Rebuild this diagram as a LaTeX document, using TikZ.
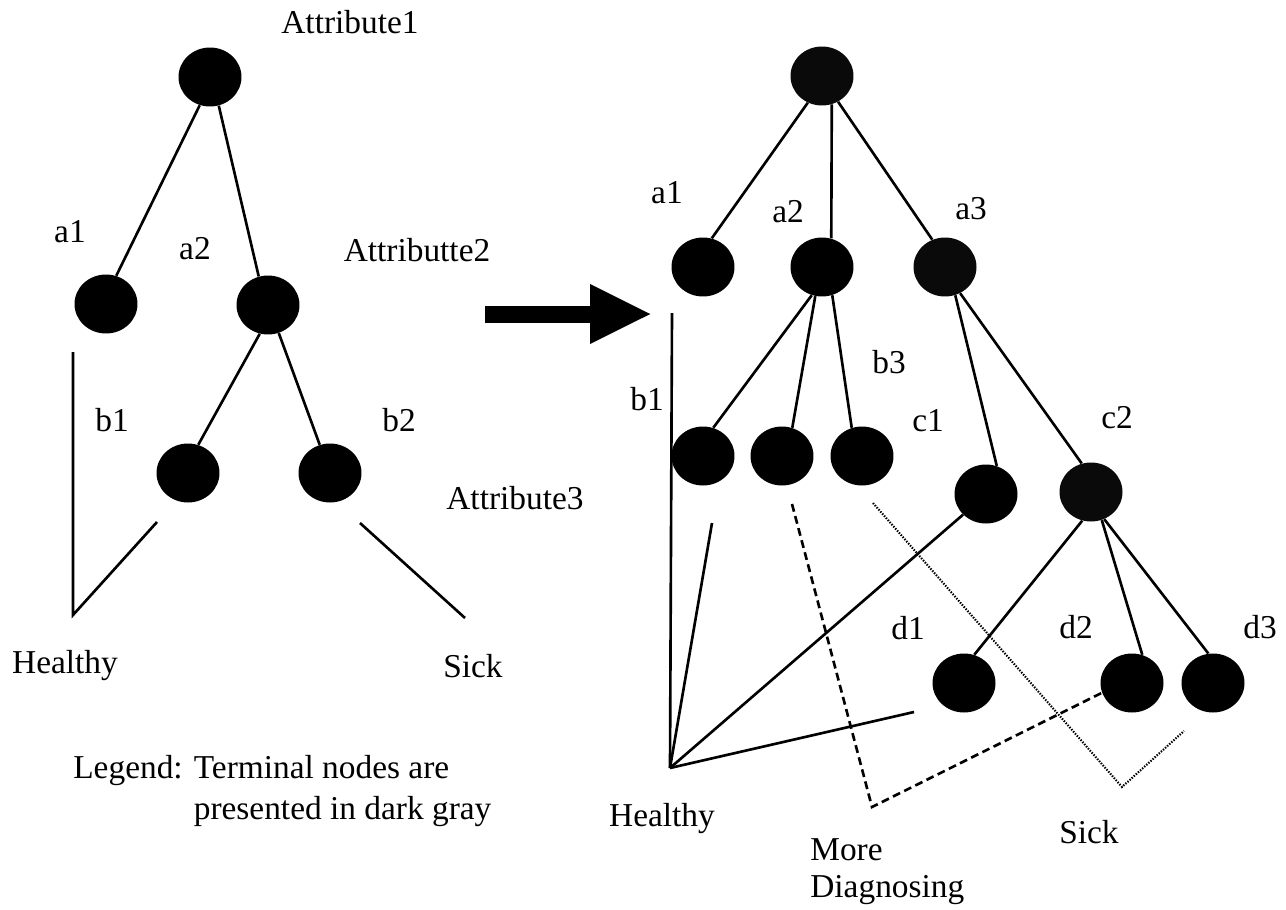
\documentclass[tikz,border=0pt]{standalone}
\usepackage{fontspec}
\setmainfont{Liberation Serif}
\usetikzlibrary{shapes.geometric,arrows.meta}

\tikzset{
  blob/.style={ellipse, fill=black, minimum width=1.26cm, minimum height=1.18cm, inner sep=0pt},
  greyblob/.style={blob, fill=black!96},
  lbl/.style={inner sep=0pt, font=\fontsize{19}{23}\selectfont},
  edge/.style={line width=1.5pt},
  moredash/.style={line width=1.5pt, dash pattern=on 4.5pt off 2.6pt},
  sickdot/.style={line width=1.2pt, dash pattern=on 0.8pt off 0.8pt},
}

\begin{document}
\begin{tikzpicture}[x=0.02cm, y=-0.02cm]
\useasboundingbox (0,0) rectangle (1286,910);

% ---------- simple tree ----------
\node[blob] (L0)  at (210,77)  {};
\node[blob] (La1) at (106,304) {};
\node[blob] (La2) at (268,305) {};
\node[blob] (Lb1) at (188,473) {};
\node[blob] (Lb2) at (330,473) {};

\draw[edge] (L0.-110) -- (La1.70);
\draw[edge] (L0.-73)  -- (La2.108);
\draw[edge] (La2.-106) -- (Lb1.70);
\draw[edge] (La2.-69)  -- (Lb2.110);

\coordinate (Ltop)  at (73,352);
\coordinate (LH)    at (73,615);
\coordinate (Lb1e)  at (157,522);
\coordinate (Lb2s)  at (360,523);
\coordinate (LS)    at (465,618);
\draw[edge] (Ltop) -- (LH) -- (Lb1e);
\draw[edge] (Lb2s) -- (LS);

\node[lbl] (tA1) at (350,22)  {Attribute1};
\node[lbl] (ta1) at (70,232)  {a1};
\node[lbl] (ta2) at (195,249) {a2};
\node[lbl] (tA2) at (417,250) {Attributte2};
\node[lbl] (tb1) at (112,420) {b1};
\node[lbl] (tb2) at (399,420) {b2};
\node[lbl] (tA3) at (515,498) {Attribute3};
\node[lbl] (tLH) at (65,666)  {Healthy};
\node[lbl] (tLS) at (473,666) {Sick};

\node[lbl, anchor=north west] (legend) at (73,750)
  {\begin{tabular}{@{}l@{ }l@{}}Legend: & Terminal nodes are\\ & presented in dark gray\end{tabular}};

% ---------- transformation arrow ----------
\coordinate (arrS) at (485,314);
\coordinate (arrE) at (652,314);
\draw[line width=0.34cm, -{Triangle[length=1.24cm, width=1.1cm]}] (arrS) -- (arrE);

% ---------- extended tree ----------
\node[greyblob] (R0) at (822,76)  {};
\node[blob]     (a1) at (703,267) {};
\node[blob]     (a2) at (822,267) {};
\node[greyblob] (a3) at (945,267) {};
\node[blob]     (b1) at (703,456) {};
\node[blob]     (b2) at (782,456) {};
\node[blob]     (b3) at (862,456) {};
\node[blob]     (c1) at (986,494) {};
\node[greyblob] (c2) at (1091,492) {};
\node[blob]     (d1) at (964,683) {};
\node[blob]     (d2) at (1132,683) {};
\node[blob]     (d3) at (1213,683) {};

\draw[edge] (R0.-118) -- (a1.73);
\draw[edge] (R0.-71)  -- (a2.72);
\draw[edge] (R0.-58)  -- (a3.115);
\draw[edge] (a2.-110) -- (b1.70);
\draw[edge] (a2.-103) -- (b2.70);
\draw[edge] (a2.-70)  -- (b3.110);
\draw[edge] (a3.-70)  -- (c1.69);
\draw[edge] (a3.-60)  -- (c2.108);
\draw[edge] (c2.-107) -- (d1.70);
\draw[edge] (c2.-69)  -- (d2.70);
\draw[edge] (c2.-64)  -- (d3.99);

% healthy fan
\coordinate (Rtop) at (672,313);
\coordinate (RH)   at (670,768);
\coordinate (Rb1e) at (712,523);
\coordinate (Rd1e) at (914,712);
\draw[edge] (Rtop) -- (RH);
\draw[edge] (RH) -- (Rb1e);
\draw[edge] (RH) -- (c1.-138);
\draw[edge] (RH) -- (Rd1e);

% more diagnosing (dashed)
\coordinate (Mb2) at (792,504);
\coordinate (MC)  at (872,807);
\draw[moredash] (Mb2) -- (MC) -- (d2.198);

% sick (dotted)
\coordinate (Sb3) at (873,503);
\coordinate (SC)  at (1122,787);
\coordinate (Sd3) at (1184,731);
\draw[sickdot] (Sb3) -- (SC) -- (Sd3);

\node[lbl] (ra1) at (667,193)  {a1};
\node[lbl] (ra2) at (788,212)  {a2};
\node[lbl] (ra3) at (971,209)  {a3};
\node[lbl] (rb1) at (647,399)  {b1};
\node[lbl] (rb3) at (889,362)  {b3};
\node[lbl] (rc1) at (928,421)  {c1};
\node[lbl] (rc2) at (1117,418) {c2};
\node[lbl] (rd1) at (908,628)  {d1};
\node[lbl] (rd2) at (1076,627) {d2};
\node[lbl] (rd3) at (1260,627) {d3};
\node[lbl] (rH)  at (662,819)  {Healthy};
\node[lbl, anchor=north west, align=left, font=\fontsize{19}{21.5}\selectfont]
  (rM) at (810,838) {More\\Diagnosing};
\node[lbl] (rS)  at (1089,832) {Sick};
\end{tikzpicture}
\end{document}
